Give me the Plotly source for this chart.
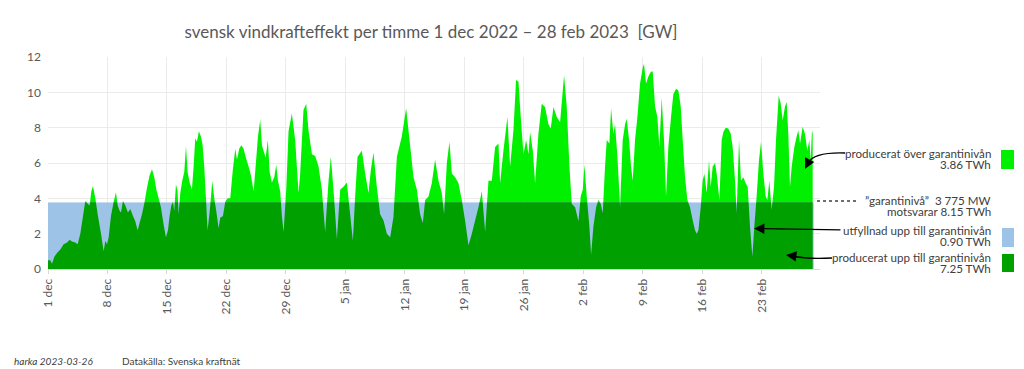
import pandas as pd
import plotly.graph_objects as go

START = "2022-12-01"
GUARANTEE_GW = 3.775

# day offset from 1 Dec 2022 00:00, and hourly wind power (GW)
day = [0, 0.27, 0.47, 0.75, 1.06, 1.45, 1.84, 2.24, 2.55, 2.82, 3.22, 3.49, 3.80, 4.12, 4.39, 4.67, 4.90,
       5.10, 5.29, 5.57, 5.88, 6.24, 6.55, 6.75, 6.94, 7.14, 7.41, 7.73, 8.0, 8.2, 8.43, 8.59, 8.82, 9.1,
       9.41, 9.69, 10.0, 10.27, 10.55, 10.78, 11.06, 11.33, 11.65, 11.96, 12.24, 12.51, 12.75, 13.02, 13.29,
       13.61, 13.88, 14.12, 14.31, 14.51, 14.71, 14.86, 15.06, 15.25, 15.37, 15.57, 15.8, 16.04, 16.24,
       16.43, 16.67, 16.94, 17.14, 17.33, 17.53, 17.76, 18.0, 18.2, 18.39, 18.59, 18.78, 19.02, 19.22,
       19.33, 19.57, 19.8, 20.08, 20.27, 20.59, 20.86, 21.14, 21.45, 21.73, 22.04, 22.24, 22.51, 22.75,
       23.02, 23.29, 23.61, 23.88, 24.2, 24.47, 24.71, 24.98, 25.18, 25.37, 25.61, 25.88, 26.08, 26.35,
       26.63, 26.86, 27.06, 27.33, 27.53, 27.73,
       28.04, 28.31, 28.7, 29.09, 29.49, 29.68, 30.07, 30.39, 30.66, 31.06, 31.45, 31.84, 32.23, 32.62,
       33.02, 33.29, 33.6, 34.0, 34.39, 34.78, 35.17, 35.56, 35.88, 36.15, 36.43, 36.94, 37.33, 37.72,
       38.0, 38.31, 38.7, 39.09, 39.49, 39.88, 40.27, 40.66, 41.06, 41.64, 42.15, 42.55, 43.02, 43.41,
       43.8, 44.11, 44.39, 44.78, 45.17, 45.56, 45.96, 46.35, 46.62, 46.94, 47.25, 47.53, 47.92, 48.31,
       48.7, 49.09, 49.49, 49.88, 50.27, 50.66, 51.06, 51.45, 51.84, 52.23, 52.62, 53.02, 53.21, 53.6,
       54.07, 54.39, 54.78, 55.09, 55.37, 55.64, 55.96, 56.27, 56.55, 56.74, 57.06, 57.33, 57.72, 58.11,
       58.5, 58.9, 59.17, 59.49, 59.88, 60.27, 60.74,
       61.05, 61.37, 61.64, 62.04, 62.43, 62.7, 62.94, 63.13, 63.41, 63.72, 63.92, 64.19, 64.51, 64.78,
       65.05, 65.29, 65.56, 65.76, 66.07, 66.27, 66.54, 66.74, 67.02, 67.33, 67.64, 67.92, 68.11, 68.39,
       68.62, 68.82, 69.09, 69.37, 69.68, 70.0, 70.15, 70.39, 70.66, 70.94, 71.17, 71.45, 71.72, 71.96,
       72.23, 72.5, 72.74, 73.01, 73.33, 73.6, 73.92, 74.19, 74.47, 74.7, 74.98, 75.25, 75.56, 75.88,
       76.15, 76.35, 76.55, 76.82, 77.05, 77.25, 77.52, 77.8, 78.0, 78.23, 78.51, 78.7, 79.02, 79.29,
       79.49, 79.76, 80.07, 80.35, 80.58, 80.86, 81.05, 81.33, 81.56, 81.84, 82.11, 82.35, 82.62, 82.9,
       83.13, 83.4, 83.68, 83.92, 84.19, 84.47, 84.66, 84.9, 85.17, 85.45, 85.68, 86.0, 86.23, 86.47,
       86.74, 86.94, 87.13, 87.33, 87.53, 87.84, 88.11, 88.31, 88.51, 88.82, 89.09, 89.37, 89.6, 89.76,
       89.92, 90.0]
gw = [0.5, 0.5, 0.3, 0.7, 0.9, 1.1, 1.4, 1.5, 1.65, 1.55, 1.5, 1.4, 2.0, 3.0, 3.85, 3.7, 3.6,
      4.4, 4.7, 4.0, 3.0, 2.0, 1.0, 1.6, 1.4, 1.8, 3.0, 3.8, 4.35, 3.6, 3.3, 3.2, 3.85, 3.6,
      3.2, 3.4, 3.0, 2.7, 2.2, 2.6, 3.1, 3.7, 4.6, 5.3, 5.65, 5.2, 4.5, 4.0, 3.5,
      2.5, 1.8, 2.2, 3.0, 3.6, 3.8, 3.3, 4.8, 4.4, 3.1, 4.3, 5.0, 5.5, 6.95,
      5.5, 4.9, 4.5, 5.8, 7.4, 7.2, 7.8, 7.5, 7.0, 5.8, 4.0, 2.2, 3.2, 4.3,
      5.0, 4.0, 3.3, 2.3, 2.9, 3.0, 3.8, 4.0, 4.0, 5.5, 6.8, 6.2, 6.8, 7.0,
      6.8, 6.3, 5.8, 5.3, 4.4, 6.0, 7.5, 8.45, 7.0, 6.7, 6.3, 7.3, 5.5, 4.9,
      5.2, 5.9, 5.0, 4.4, 3.0, 2.1,
      4.5, 7.8, 8.8, 7.3, 4.3, 5.4, 9.0, 9.36, 7.85, 6.5, 6.4, 5.8, 4.5, 2.1,
      5.0, 6.35, 4.5, 1.7, 4.5, 4.65, 4.9, 3.1, 1.6, 4.1, 6.35, 6.7, 5.4, 4.3,
      5.6, 6.6, 4.65, 3.1, 2.75, 2.0, 1.8, 2.95, 6.35, 7.5, 9.1, 7.3, 5.2, 4.5,
      3.1, 2.6, 3.9, 4.1, 4.85, 6.2, 5.0, 4.3, 3.1, 6.0, 7.2, 5.4, 5.2, 4.85,
      3.9, 2.75, 1.35, 2.0, 2.75, 3.5, 4.4, 2.1, 5.0, 5.0, 6.9, 7.1, 4.85, 6.7,
      8.6, 5.8, 7.85, 10.7, 10.6, 8.6, 6.5, 7.3, 6.5, 7.75, 6.7, 4.85, 7.65, 9.36,
      9.17, 8.2, 7.95, 9.17, 8.6, 8.3, 10.96,
      9.2, 5.8, 3.7, 3.5, 2.7, 4.1, 4.5, 5.9, 4.1, 2.4, 0.8, 2.4, 3.5, 3.9,
      3.7, 3.15, 5.8, 7.3, 7.1, 9.1, 7.65, 8.2, 6.35, 3.5, 7.3, 8.2, 8.5, 7.3,
      5.8, 5.0, 7.3, 8.6, 10.5, 11.4, 11.6, 10.5, 10.9, 11.15, 11.2, 9.2, 8.6, 6.9,
      9.7, 7.3, 4.1, 6.9, 8.6, 9.9, 10.2, 10.1, 9.2, 7.3, 5.2, 3.9, 3.5, 2.75,
      2.2, 2.0, 2.2, 3.5, 5.0, 5.4, 4.3, 6.15, 4.65, 5.8, 6.0, 5.4, 3.9, 7.3,
      7.75, 8.0, 7.95, 7.65, 6.9, 5.0, 3.15, 7.3, 5.0, 5.2, 4.85, 4.65, 2.4, 0.7,
      2.4, 4.1, 6.15, 7.2, 5.4, 4.1, 3.9, 5.0, 3.35, 4.65, 7.3, 9.8, 9.4, 8.4,
      9.2, 9.45, 7.65, 4.65, 5.8, 6.9, 7.5, 7.85, 7.1, 8.05, 7.65, 6.7, 7.3, 6.15,
      7.85, 7.65]

tick_days = [0, 7, 14, 21, 28, 35, 42, 49, 56, 63, 70, 77, 84]
tick_labels = ["1 dec", "8 dec", "15 dec", "22 dec", "29 dec", "5 jan", "12 jan",
               "19 jan", "26 jan", "2 feb", "9 feb", "16 feb", "23 feb"]
band_days = [0, 90.12]
axis_end_day = 90.86

legend_lines = [
    ("producerat över garantinivån", 153),
    ("3.86 TWh", 164),
    ("”garantinivå”\u00a0 3\u00a0775 MW", 200.5),
    ("motsvarar 8.15 TWh", 211),
    ("utfyllnad upp till garantinivån", 230),
    ("0.90 TWh", 241),
    ("producerat upp till garantinivån", 257.7),
    ("7.25 TWh", 268.7),
]

C_OVER = "#00f000"
C_UNDER = "#00a000"
C_FILL = "#9dc3e6"
GREY = "#595959"
DARK = "#404040"
FONT = "Lato"

W, H = 1024, 369
L, R, TOP, BOT = 48, 820, 57, 269

def px(xp):
    return (xp - L) / (R - L)

def py(yp):
    return (BOT - yp) / (BOT - TOP)

t0 = pd.Timestamp(START)
x = t0 + pd.to_timedelta(day, unit="D")
xb = t0 + pd.to_timedelta(band_days, unit="D")
tickvals = t0 + pd.to_timedelta(tick_days, unit="D")

fig = go.Figure()
# full production (shows only above the guarantee level, the rest is covered)
fig.add_trace(go.Scatter(x=x, y=gw, mode="none", fill="tozeroy", fillcolor=C_OVER,
                         xaxis="x", yaxis="y", hoverinfo="skip"))
# lower strip subplot (0 .. guarantee level): blue fill-up then production clipped
fig.add_trace(go.Scatter(x=xb, y=[GUARANTEE_GW, GUARANTEE_GW], mode="none", fill="tozeroy",
                         fillcolor=C_FILL, xaxis="x", yaxis="y3", hoverinfo="skip"))
fig.add_trace(go.Scatter(x=x, y=gw, mode="none", fill="tozeroy", fillcolor=C_UNDER,
                         xaxis="x", yaxis="y3", hoverinfo="skip"))

frac = GUARANTEE_GW / 12.0
fig.update_layout(
    width=W, height=H,
    margin=dict(l=L, r=W - R, t=TOP, b=H - BOT, pad=0),
    paper_bgcolor="white", plot_bgcolor="rgba(0,0,0,0)",
    showlegend=False,
    font=dict(family=FONT, color=GREY, size=12),
    title=dict(text="svensk vindkrafteffekt per timme 1 dec 2022 – 28 feb 2023 \u00a0[GW]",
               x=431 / W, xanchor="center", y=1 - 32 / H, yanchor="middle",
               font=dict(family=FONT, size=17, color=GREY)),
    xaxis=dict(type="date", range=[t0, t0 + pd.Timedelta(days=axis_end_day)],
               tickvals=list(tickvals), ticktext=tick_labels, tickangle=-90,
               showgrid=True, gridcolor="#ebebeb", gridwidth=1,
               ticks="outside", ticklen=4, tickcolor="#d9d9d9",
               showline=True, linecolor="#d9d9d9", zeroline=False, anchor="y",
               tickfont=dict(family=FONT, size=12, color=GREY)),
    yaxis=dict(range=[0, 12], dtick=2, domain=[0, 1], showgrid=True, gridcolor="#ebebeb",
               zeroline=False, showline=False, ticks="", ticklabelstandoff=6,
               tickfont=dict(family=FONT, size=12, color=GREY)),
    yaxis3=dict(range=[0, GUARANTEE_GW], domain=[0, frac], anchor="x", visible=False,
                showgrid=False, zeroline=False),
)

shapes = []
# swatches
shapes.append(dict(type="rect", xref="paper", yref="paper", x0=px(1001), x1=px(1014),
                   y0=py(169), y1=py(150), fillcolor=C_OVER, line=dict(width=0)))
shapes.append(dict(type="rect", xref="paper", yref="paper", x0=px(1002), x1=px(1014),
                   y0=py(247), y1=py(228), fillcolor=C_FILL, line=dict(width=0)))
shapes.append(dict(type="rect", xref="paper", yref="paper", x0=px(1002), x1=px(1014),
                   y0=py(272), y1=py(254), fillcolor=C_UNDER, line=dict(width=0)))
# dotted leader for the guarantee level
shapes.append(dict(type="line", xref="paper", yref="paper", x0=px(817), x1=px(858),
                   y0=py(201), y1=py(201), line=dict(color=DARK, width=1.5, dash="dot")))
# curved arrow shafts
shapes.append(dict(type="path", xref="paper", yref="paper",
                   path=f"M {px(845)} {py(153)} Q {px(814)} {py(152)} {px(808)} {py(163)}",
                   line=dict(color="black", width=1.3)))
shapes.append(dict(type="path", xref="paper", yref="paper",
                   path=f"M {px(832)} {py(258)} Q {px(808)} {py(259.5)} {px(792)} {py(256)}",
                   line=dict(color="black", width=1.3)))
fig.update_layout(shapes=shapes)

ann = []
for text, yp in legend_lines:
    ann.append(dict(text=text, x=px(993), y=py(yp), xref="paper", yref="paper",
                    xanchor="right", yanchor="middle", showarrow=False,
                    font=dict(family=FONT, size=11.6, color=DARK)))
# arrow heads / straight arrow
ann.append(dict(text="", x=px(805), y=py(169), xref="paper", yref="paper", showarrow=True,
                ax=4, ay=-8, arrowhead=2, arrowsize=1.6, arrowwidth=1.3, arrowcolor="black"))
ann.append(dict(text="", x=px(754), y=py(228.5), xref="paper", yref="paper", showarrow=True,
                ax=88, ay=1.5, arrowhead=2, arrowsize=1.6, arrowwidth=1.3, arrowcolor="black"))
ann.append(dict(text="", x=px(786), y=py(255), xref="paper", yref="paper", showarrow=True,
                ax=8, ay=1, arrowhead=2, arrowsize=1.6, arrowwidth=1.3, arrowcolor="black"))
# footer
ann.append(dict(text="<i>harka 2023-03-26</i>", x=px(12), y=py(361), xref="paper", yref="paper",
                xanchor="left", yanchor="middle", showarrow=False,
                font=dict(family=FONT, size=10, color=DARK)))
ann.append(dict(text="Datakälla: Svenska kraftnät", x=px(120), y=py(361), xref="paper",
                yref="paper", xanchor="left", yanchor="middle", showarrow=False,
                font=dict(family=FONT, size=10, color=DARK)))
fig.update_layout(annotations=ann)

fig.write_html("out.html", config={"displayModeBar": False},
               post_script="document.body.style.margin='0';document.body.style.overflow='hidden';")
